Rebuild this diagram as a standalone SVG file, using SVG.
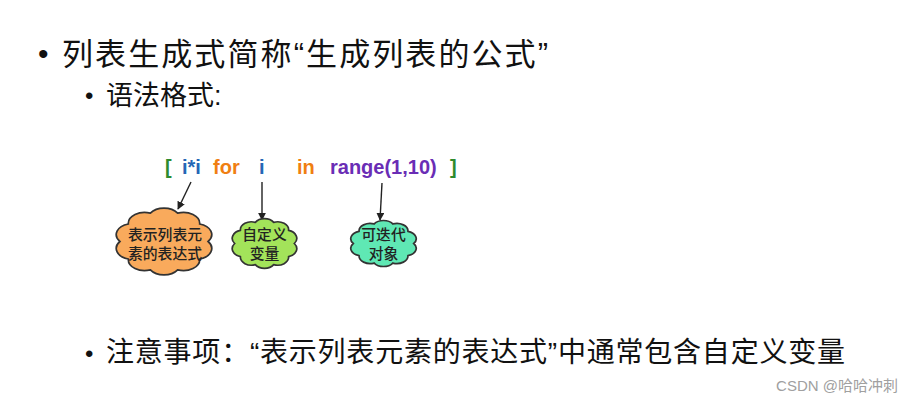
<svg xmlns="http://www.w3.org/2000/svg" xmlns:xlink="http://www.w3.org/1999/xlink" width="915" height="405" viewBox="0 0 915 405">
<style>
.t{font-family:"Liberation Sans","Noto Sans CJK SC",sans-serif;fill:#111}
.code{font-family:"Liberation Sans",Arial,sans-serif;font-weight:bold;font-size:20px}
.c{font-family:"Noto Sans CJK SC",sans-serif;font-size:14.8px;font-weight:500;fill:#222;text-anchor:middle}
.arr{stroke:#222;stroke-width:1.4;fill:none;marker-end:url(#ah)}
.wm{font-family:"Liberation Sans","Noto Sans CJK SC",sans-serif;font-size:15px;fill:#a0a0a0;text-anchor:end}
</style>
<defs>
<marker id="ah" viewBox="0 0 10 10" refX="9" refY="5" markerWidth="8" markerHeight="8" orient="auto" markerUnits="userSpaceOnUse"><path d="M0,0 L10,5 L0,10 z" fill="#222"/></marker>
<path id="cloud" vector-effect="non-scaling-stroke" stroke="#333" stroke-width="1.7" d="M42,0 A15.5,15.5 0 0 1 33.98,24.69 A15.5,15.5 0 0 1 12.98,39.94 A15.5,15.5 0 0 1 -12.98,39.94 A15.5,15.5 0 0 1 -33.98,24.69 A15.5,15.5 0 0 1 -42,0 A15.5,15.5 0 0 1 -33.98,-24.69 A15.5,15.5 0 0 1 -12.98,-39.94 A15.5,15.5 0 0 1 12.98,-39.94 A15.5,15.5 0 0 1 33.98,-24.69 A15.5,15.5 0 0 1 42,0 Z"/>
</defs>
<rect width="915" height="405" fill="#fff"/>

<g id="title">
<text class="t" x="38" y="64" font-size="30">•</text>
<text class="t" x="62" y="65" font-size="31" textLength="486" lengthAdjust="spacing">列表生成式简称“生成列表的公式”</text>
</g>
<g id="subtitle">
<text class="t" x="85" y="104" font-size="24">•</text>
<text class="t" x="106" y="105" font-size="27">语法格式:</text>
</g>

<g id="code">
<text class="code" x="165" y="174" fill="#2e8b2e">[</text>
<text class="code" x="182" y="174" fill="#2566b5">i*i</text>
<text class="code" x="213" y="174" fill="#f07f12">for</text>
<text class="code" x="259" y="174" fill="#2566b5">i</text>
<text class="code" x="297" y="174" fill="#f07f12">in</text>
<text class="code" x="330" y="174" fill="#6a2db5">range(1,10)</text>
<text class="code" x="450" y="174" fill="#2e8b2e">]</text>
</g>

<g id="connectors">
<line class="arr" x1="191" y1="182" x2="178" y2="209"/>
<line class="arr" x1="262" y1="182" x2="262" y2="220"/>
<line class="arr" x1="382" y1="183" x2="380" y2="220"/>
</g>

<g id="node-expr">
<use xlink:href="#cloud" href="#cloud" fill="#f9aa5c" transform="translate(164,241.5) scale(1.05,0.71)"/>
<text class="c" x="165" y="240">表示列表元</text>
<text class="c" x="165" y="259">素的表达式</text>
</g>
<g id="node-var">
<use xlink:href="#cloud" href="#cloud" fill="#a3e35a" transform="translate(264.5,243.5) scale(0.71,0.53)"/>
<text class="c" x="264.5" y="240">自定义</text>
<text class="c" x="264.5" y="259">变量</text>
</g>
<g id="node-iter">
<use xlink:href="#cloud" href="#cloud" fill="#5fe8b4" transform="translate(383.5,243.5) scale(0.72,0.49)"/>
<text class="c" x="383.5" y="240">可迭代</text>
<text class="c" x="383.5" y="259">对象</text>
</g>

<g id="note">
<text class="t" x="85" y="362" font-size="24">•</text>
<text class="t" x="106" y="362" font-size="28" textLength="739" lengthAdjust="spacing">注意事项：“表示列表元素的表达式”中通常包含自定义变量</text>
</g>
<text class="wm" x="898" y="391">CSDN @哈哈冲刺</text>
</svg>
